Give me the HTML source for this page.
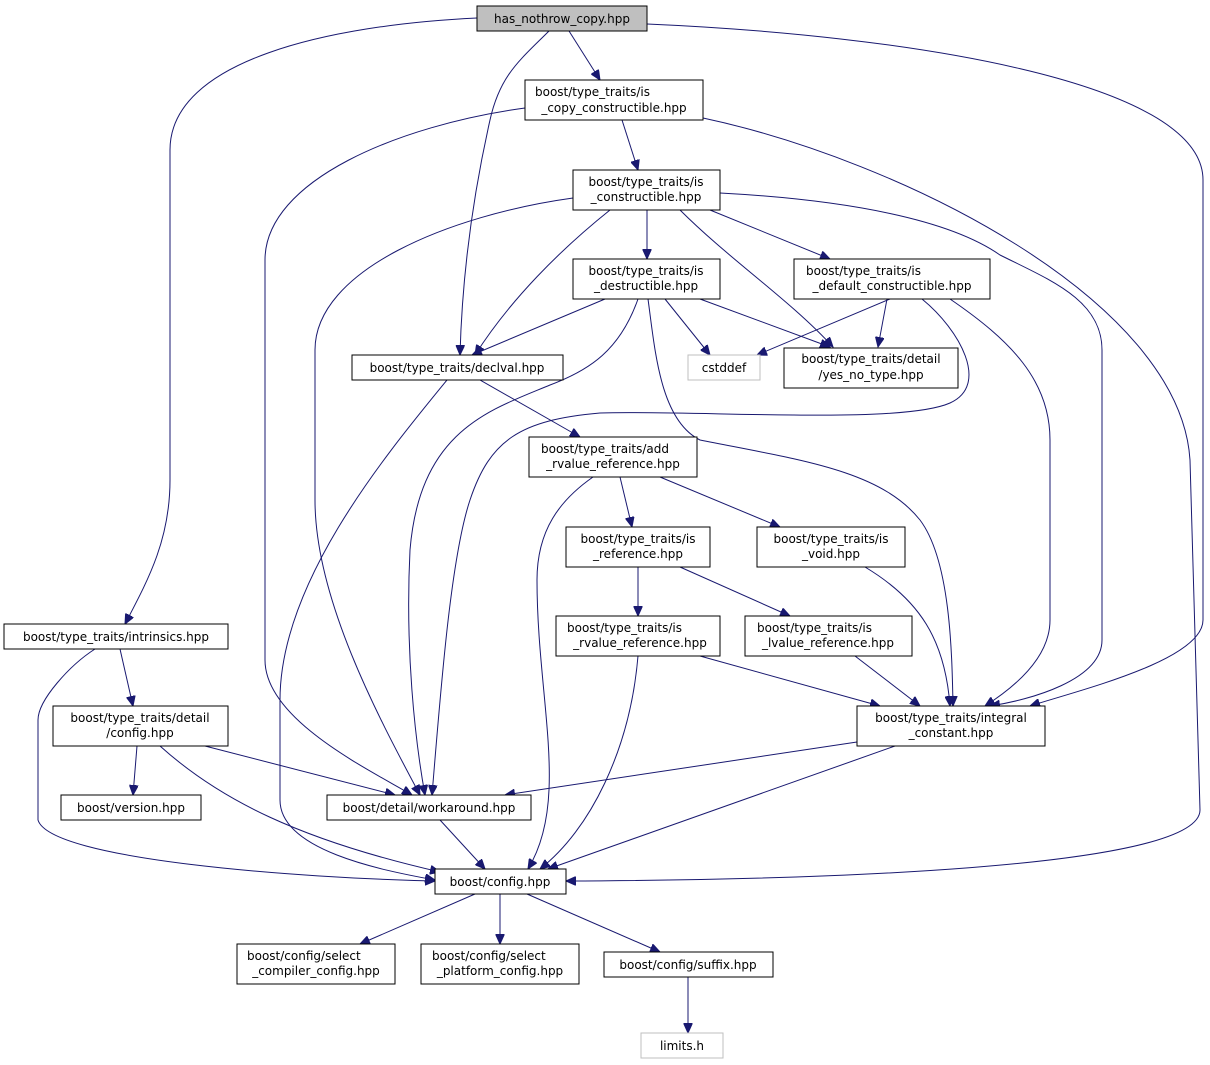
<!DOCTYPE html>
<html><head><meta charset="utf-8"><style>
html,body{margin:0;padding:0;background:#fff;}
svg{display:block;}
text{font-family:"DejaVu Sans","Liberation Sans",sans-serif;font-size:12px;fill:#000;}
.n{fill:#fff;stroke:#000;stroke-width:1;}
.g{fill:#fff;stroke:#bfbfbf;stroke-width:1;}
.e{fill:none;stroke:#191970;stroke-width:1;}
</style></head><body>
<svg width="1210" height="1065" viewBox="0 0 1210 1065" xmlns="http://www.w3.org/2000/svg">
<defs>
<marker id="a" markerWidth="11" markerHeight="9" refX="10" refY="4.5" orient="auto" markerUnits="userSpaceOnUse">
<path d="M0,0 L10,4.5 L0,9 Z" fill="#191970" stroke="#191970"/>
</marker>
</defs>
<g marker-end="url(#a)">
<path class="e" d="M569,31 L600,80"/>
<path class="e" d="M549,31 C520,60 500,75 490,120 C472,200 462,280 460,355"/>
<path class="e" d="M477,18 C330,25 170,60 170,150 L170,480 C170,540 148,580 125,624"/>
<path class="e" d="M647,24 C900,35 1203,80 1203,180 L1203,620 C1203,660 1080,690 1030,706"/>
<path class="e" d="M525,108 C400,125 265,180 265,260 L265,660 C265,720 370,770 412,795"/>
<path class="e" d="M703,118 C900,160 1180,300 1190,460 L1200,810 C1200,870 800,880 566,881"/>
<path class="e" d="M622,120 L638,170"/>
<path class="e" d="M610,210 C560,250 510,300 475,355"/>
<path class="e" d="M573,198 C450,215 315,270 315,350 L315,500 C315,600 380,720 420,795"/>
<path class="e" d="M647,210 L647,259"/>
<path class="e" d="M680,210 C730,260 790,300 833,347"/>
<path class="e" d="M710,210 L830,259"/>
<path class="e" d="M720,193 C850,200 950,220 1000,255 C1050,280 1102,300 1102,350 L1102,640 C1102,680 1030,700 990,706"/>
<path class="e" d="M605,299 L472,355"/>
<path class="e" d="M665,299 L710,355"/>
<path class="e" d="M700,299 L830,347"/>
<path class="e" d="M638,299 C620,350 590,370 550,385 C490,410 420,430 410,550 C405,650 415,740 425,795"/>
<path class="e" d="M648,299 C655,350 660,420 700,440 C800,460 880,470 920,520 C950,560 952,650 953,706"/>
<path class="e" d="M890,299 L757,355"/>
<path class="e" d="M887,299 L878,347"/>
<path class="e" d="M922,299 C960,330 990,385 950,403 C900,425 700,410 600,413 C520,420 490,440 470,500 C450,560 440,700 432,795"/>
<path class="e" d="M950,299 C1010,340 1050,380 1050,440 L1050,620 C1050,660 1010,690 985,706"/>
<path class="e" d="M480,380 L580,437"/>
<path class="e" d="M447,380 C390,450 280,580 280,700 L280,800 C280,850 380,870 435,880"/>
<path class="e" d="M620,477 L632,527"/>
<path class="e" d="M660,477 L780,527"/>
<path class="e" d="M593,477 C560,500 537,530 537,580 C537,700 570,800 528,869"/>
<path class="e" d="M638,567 L638,616"/>
<path class="e" d="M680,567 L790,616"/>
<path class="e" d="M865,567 C920,600 945,640 950,706"/>
<path class="e" d="M638,656 C630,750 590,830 540,869"/>
<path class="e" d="M700,656 L880,706"/>
<path class="e" d="M855,656 L920,706"/>
<path class="e" d="M120,649 L133,706"/>
<path class="e" d="M95,649 C70,665 38,700 38,720 L38,820 C50,860 300,878 435,881"/>
<path class="e" d="M137,746 L133,795"/>
<path class="e" d="M205,746 L395,795"/>
<path class="e" d="M160,746 C220,800 300,840 440,872"/>
<path class="e" d="M857,742 L505,795"/>
<path class="e" d="M895,746 L548,869"/>
<path class="e" d="M440,820 L485,869"/>
<path class="e" d="M475,894 L360,944"/>
<path class="e" d="M500,894 L500,944"/>
<path class="e" d="M527,894 L660,952"/>
<path class="e" d="M688,977 L688,1033"/>
</g>
<rect x="477" y="6" width="170" height="25" fill="#bfbfbf" stroke="#000"/>
<text x="562" y="23" text-anchor="middle">has_nothrow_copy.hpp</text>
<rect class="n" x="525" y="80" width="178" height="40"/>
<text x="535" y="96">boost/type_traits/is</text><text x="614" y="112" text-anchor="middle">_copy_constructible.hpp</text>
<rect class="n" x="573" y="170" width="147" height="40"/>
<text x="646" y="186" text-anchor="middle">boost/type_traits/is</text><text x="646" y="201" text-anchor="middle">_constructible.hpp</text>
<rect class="n" x="573" y="259" width="147" height="40"/>
<text x="646" y="275" text-anchor="middle">boost/type_traits/is</text><text x="646" y="290" text-anchor="middle">_destructible.hpp</text>
<rect class="n" x="794" y="259" width="196" height="40"/>
<text x="806" y="275">boost/type_traits/is</text><text x="892" y="290" text-anchor="middle">_default_constructible.hpp</text>
<rect class="n" x="352" y="355" width="211" height="25"/>
<text x="457" y="372" text-anchor="middle">boost/type_traits/declval.hpp</text>
<rect class="g" x="688" y="355" width="72" height="25"/>
<text x="724" y="372" text-anchor="middle">cstddef</text>
<rect class="n" x="784" y="348" width="174" height="40"/>
<text x="871" y="363" text-anchor="middle">boost/type_traits/detail</text><text x="871" y="379" text-anchor="middle">/yes_no_type.hpp</text>
<rect class="n" x="529" y="437" width="168" height="40"/>
<text x="541" y="453">boost/type_traits/add</text><text x="613" y="468" text-anchor="middle">_rvalue_reference.hpp</text>
<rect class="n" x="566" y="527" width="144" height="40"/>
<text x="638" y="543" text-anchor="middle">boost/type_traits/is</text><text x="638" y="558" text-anchor="middle">_reference.hpp</text>
<rect class="n" x="757" y="527" width="148" height="40"/>
<text x="831" y="543" text-anchor="middle">boost/type_traits/is</text><text x="831" y="558" text-anchor="middle">_void.hpp</text>
<rect class="n" x="4" y="624" width="224" height="25"/>
<text x="116" y="641" text-anchor="middle">boost/type_traits/intrinsics.hpp</text>
<rect class="n" x="556" y="616" width="164" height="40"/>
<text x="567" y="632">boost/type_traits/is</text><text x="640" y="647" text-anchor="middle">_rvalue_reference.hpp</text>
<rect class="n" x="745" y="616" width="167" height="40"/>
<text x="757" y="632">boost/type_traits/is</text><text x="828" y="647" text-anchor="middle">_lvalue_reference.hpp</text>
<rect class="n" x="53" y="706" width="175" height="40"/>
<text x="140" y="722" text-anchor="middle">boost/type_traits/detail</text><text x="140" y="737" text-anchor="middle">/config.hpp</text>
<rect class="n" x="857" y="706" width="188" height="40"/>
<text x="951" y="722" text-anchor="middle">boost/type_traits/integral</text><text x="951" y="737" text-anchor="middle">_constant.hpp</text>
<rect class="n" x="61" y="795" width="140" height="25"/>
<text x="131" y="812" text-anchor="middle">boost/version.hpp</text>
<rect class="n" x="327" y="795" width="204" height="25"/>
<text x="429" y="812" text-anchor="middle">boost/detail/workaround.hpp</text>
<rect class="n" x="435" y="869" width="131" height="25"/>
<text x="500" y="886" text-anchor="middle">boost/config.hpp</text>
<rect class="n" x="237" y="944" width="158" height="40"/>
<text x="247" y="960">boost/config/select</text><text x="316" y="975" text-anchor="middle">_compiler_config.hpp</text>
<rect class="n" x="421" y="944" width="158" height="40"/>
<text x="432" y="960">boost/config/select</text><text x="500" y="975" text-anchor="middle">_platform_config.hpp</text>
<rect class="n" x="604" y="952" width="169" height="25"/>
<text x="688" y="969" text-anchor="middle">boost/config/suffix.hpp</text>
<rect class="g" x="641" y="1033" width="82" height="25"/>
<text x="682" y="1050" text-anchor="middle">limits.h</text>
</svg>
</body></html>
